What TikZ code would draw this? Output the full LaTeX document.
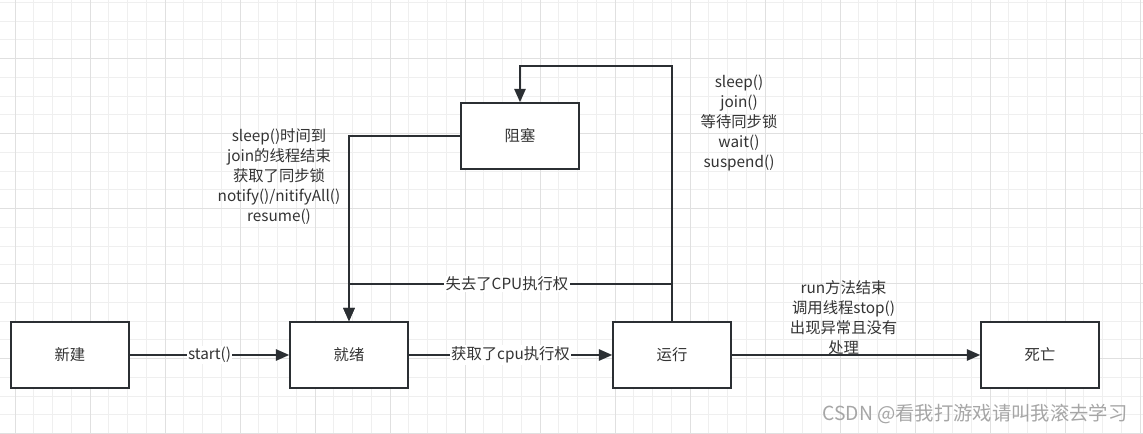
\documentclass[tikz,border=0pt]{standalone}
\usepackage{fontspec}
\setmainfont{Noto Sans CJK SC}
\usepackage{xcolor}
\usetikzlibrary{arrows.meta}
\definecolor{xiankuang}{HTML}{2B2F33}
\definecolor{wenzi}{HTML}{333333}
\definecolor{wangge}{HTML}{EFEFEF}
\definecolor{wanggecu}{HTML}{E0E0E0}
\definecolor{shuiyin}{HTML}{A6A6A6}

\begin{document}
\begin{tikzpicture}[x=0.75pt,y=-0.75pt,
  zhuangtai/.style={draw=xiankuang, line width=1.7pt, fill=white, minimum width=88pt, minimum height=49pt, text=wenzi, font=\fontsize{11.5}{15}\selectfont},
  jiantou/.style={draw=xiankuang, line width=1.3pt, -{Triangle[length=10pt,width=8.5pt]}},
  biaoqian/.style={fill=white, text=wenzi, inner sep=1pt, font=\fontsize{11.5}{15}\selectfont},
  shuoming/.style={align=center, text=wenzi, inner sep=0pt, font=\fontsize{11.5}{15}\selectfont},
  xixian/.style={draw=wangge, line width=0.75pt},
  cuxian/.style={draw=wanggecu, line width=0.75pt}]
\useasboundingbox[fill=white] (0,0) rectangle (1143,434);

% ========= 背景网格 =========
\foreach \i in {0,...,60} {\draw[xixian] ({15+18.75*\i},0) -- ({15+18.75*\i},434);}
\foreach \j in {0,...,23} {\draw[xixian] (0,{2.5+18.75*\j}) -- (1143,{2.5+18.75*\j});}
\foreach \i in {0,4,...,60} {\draw[cuxian] ({15+18.75*\i},0) -- ({15+18.75*\i},434);}
\foreach \j in {3,7,...,23} {\draw[cuxian] (0,{2.5+18.75*\j}) -- (1143,{2.5+18.75*\j});}

% ========= 五个状态 =========
% 下方一排 y=355，阻塞在上方
\node[zhuangtai] (xinjian) at (70,355) {新建};
\node[zhuangtai] (jiuxu) at (349,355) {就绪};
\node[zhuangtai] (yunxing) at (672,355) {运行};
\node[zhuangtai] (siwang) at (1040,355) {死亡};
\node[zhuangtai] (zusai) at (520,136) {阻塞};

% ========= 横向转换 =========
\draw[jiantou] (xinjian) -- node[biaoqian] {start()} (jiuxu);
\draw[jiantou] (jiuxu) -- node[biaoqian] {获取了cpu执行权} (yunxing);
\draw[jiantou] (yunxing) -- node[shuoming, pos=0.45, yshift=28pt] {run方法结束\\调用线程stop()\\出现异常且没有\\处理} (siwang);

% ========= 运行 -> 阻塞 -> 就绪 =========
\coordinate (ding) at (596,66);
\coordinate (shiqu) at (507,284);
\draw[jiantou] (yunxing.north) |- (ding) -| (zusai.north);
\draw[jiantou] (zusai.west) -| (jiuxu.north);
\draw[jiantou] (yunxing.north) |- (shiqu) node[biaoqian] {失去了CPU执行权} -| (jiuxu.north);

% ========= 说明文字 =========
\node[shuoming] (zusaiyuanyin) at (739,123) {sleep()\\join()\\等待同步锁\\wait()\\suspend()};
\node[shuoming] (jiechuyuanyin) at (279,177) {sleep()时间到\\join的线程结束\\获取了同步锁\\notify()/nitifyAll()\\resume()};

% 水印
\node[text=shuiyin, font=\fontsize{14.5}{16}\selectfont, inner sep=0pt] (shuiyin) at (975,414) {CSDN @看我打游戏请叫我滚去学习};
\end{tikzpicture}
\end{document}
